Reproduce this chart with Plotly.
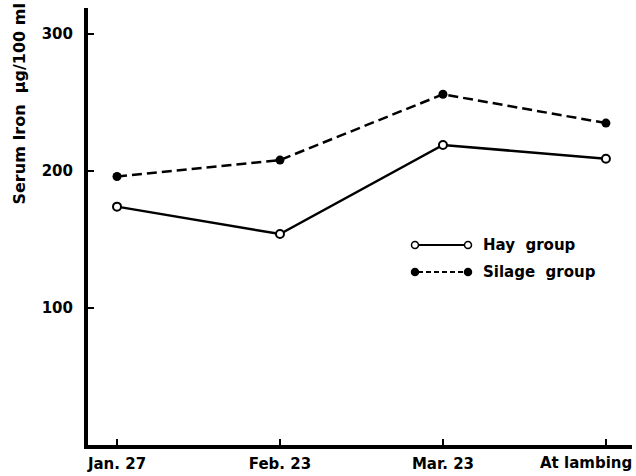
import plotly.graph_objects as go

categories = ["Jan. 27", "Feb. 23", "Mar. 23", "At lambing"]
hay_values = [174, 154, 219, 209]
silage_values = [196, 208, 256, 235]
y_ticks = [100, 200, 300]

FONT = "DejaVu Sans, sans-serif"
xs = list(range(len(categories)))

fig = go.Figure()
fig.add_trace(go.Scatter(
    x=xs, y=silage_values, mode="lines+markers",
    line=dict(color="black", width=2.5, dash="10px,5px"),
    marker=dict(symbol="circle", size=9, color="black"),
    showlegend=False, cliponaxis=False))
fig.add_trace(go.Scatter(
    x=xs, y=hay_values, mode="lines+markers",
    line=dict(color="black", width=2.5),
    marker=dict(symbol="circle", size=8, color="white", line=dict(color="black", width=2)),
    showlegend=False, cliponaxis=False))

# last category label sits left of its tick in the original (would overflow the page)
tick_text = [f"<b>{c}</b>" for c in categories[:-1]] + [""]

fig.update_layout(
    width=636, height=476,
    margin=dict(l=88, r=4, t=8, b=31, autoexpand=False),
    paper_bgcolor="white", plot_bgcolor="white",
    font=dict(family=FONT, size=14, color="black"),
    xaxis=dict(range=[-0.178, 3.16], tickmode="array", automargin=False,
               tickvals=xs, ticktext=tick_text,
               showgrid=False, zeroline=False, showline=True, linecolor="black", linewidth=4,
               ticks="inside", ticklen=6, tickwidth=2, tickcolor="black", ticklabelstandoff=2,
               tickfont=dict(family=FONT, size=15)),
    yaxis=dict(range=[0, 319], tickmode="array", tickvals=y_ticks, automargin=False,
               ticktext=[f"<b>{v}</b>" for v in y_ticks],
               showgrid=False, zeroline=False, showline=True, linecolor="black", linewidth=4,
               ticks="inside", ticklen=6, tickwidth=2, tickcolor="black", ticklabelstandoff=8,
               tickfont=dict(family=FONT, size=15)),
)

fig.add_annotation(xref="x", yref="paper", x=xs[-1], y=0, xshift=-20, yshift=-18,
                   xanchor="center", yanchor="middle", text=f"<b>{categories[-1]}</b>",
                   showarrow=False, font=dict(family=FONT, size=15, color="black"))

def px_x(p):
    return (p - 88) / (632 - 88)

def px_y(p):
    return (445 - p) / (445 - 8)

# y-axis title
fig.add_annotation(xref="paper", yref="paper", x=px_x(19), y=px_y(207), xanchor="center", yanchor="bottom",
                   text="<b>Serum Iron  µg/100 ml</b>", textangle=-90, showarrow=False,
                   font=dict(family=FONT, size=16, color="black"))

# custom legend
for yy, dash, fill, label in [(245, "solid", "white", "Hay  group"), (272, "dash", "black", "Silage  group")]:
    fig.add_shape(type="line", xref="paper", yref="paper",
                  x0=px_x(418), x1=px_x(465), y0=px_y(yy), y1=px_y(yy),
                  line=dict(color="black", width=2, dash="5px,3px" if dash == "dash" else "solid"))
    for cx in (415, 468):
        fig.add_shape(type="circle", xref="paper", yref="paper",
                      x0=px_x(cx - 3.5), x1=px_x(cx + 3.5), y0=px_y(yy + 3.5), y1=px_y(yy - 3.5),
                      line=dict(color="black", width=1.5), fillcolor=fill)
    fig.add_annotation(xref="paper", yref="paper", x=px_x(481), y=px_y(yy), xanchor="left",
                       yanchor="middle", text=f"<b>{label}</b>", showarrow=False,
                       font=dict(family=FONT, size=15, color="black"))

fig.write_html("out.html", config={"displayModeBar": False},
               post_script="document.body.style.margin='0';document.body.style.overflow='hidden';")
